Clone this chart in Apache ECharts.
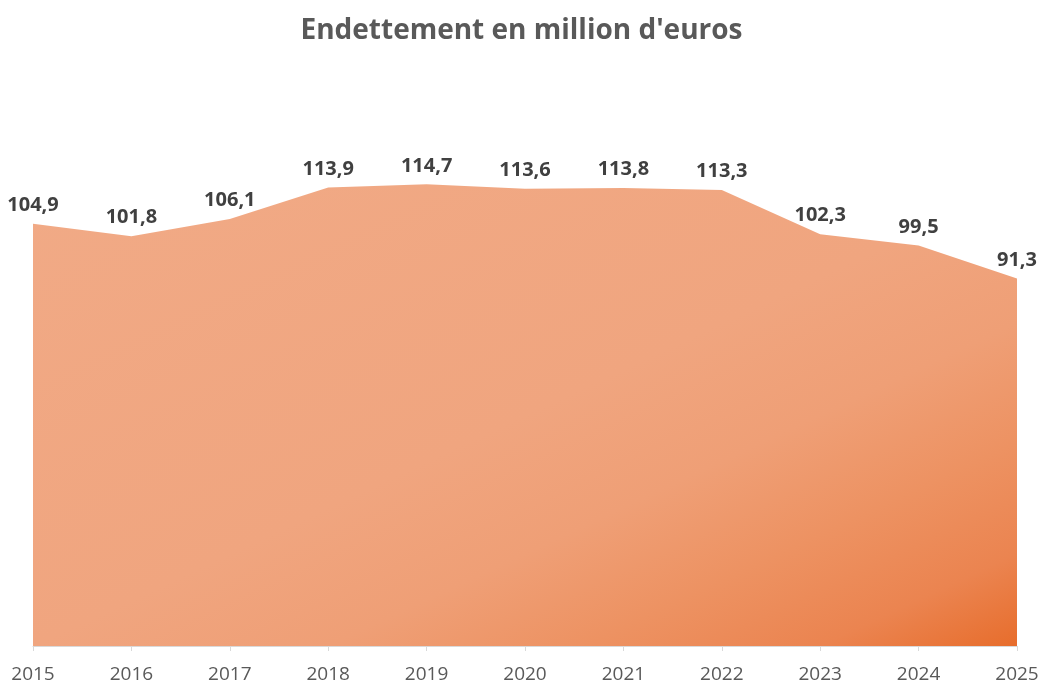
<!DOCTYPE html>
<html>
<head>
<meta charset="utf-8">
<script src="https://cdn.jsdelivr.net/npm/echarts@6/dist/echarts.min.js"></script>
<style>html,body{margin:0;padding:0;background:#fff;}#c{width:1043px;height:684px;}</style>
</head>
<body>
<div id="c"></div>
<script>
const years = ['2015','2016','2017','2018','2019','2020','2021','2022','2023','2024','2025'];
const debt = [104.9, 101.8, 106.1, 113.9, 114.7, 113.6, 113.8, 113.3, 102.3, 99.5, 91.3];
const titleText = "Endettement en million d'euros";

const chart = echarts.init(document.getElementById('c'));
const option = {
  backgroundColor: '#ffffff',
  animation: false,
  title: {
    text: titleText, left: 'center', top: 12,
    textStyle: { fontFamily: 'Open Sans', fontWeight: 'bold', fontSize: 28, color: '#595959' }
  },
  grid: { left: 33, right: 26, top: 163, bottom: 38 },
  xAxis: {
    type: 'category', data: years, boundaryGap: false,
    axisLine: { lineStyle: { color: '#d9d9d9' } },
    axisTick: { show: true, length: 5, lineStyle: { color: '#d9d9d9' } },
    axisLabel: { color: '#595959', fontSize: 19, fontFamily: 'Open Sans', margin: 19 },
    splitLine: { show: false }
  },
  yAxis: { type: 'value', min: 0, max: 120, show: false, splitLine: { show: false } },
  series: [{
    type: 'line', data: debt, symbol: 'circle', symbolSize: 1, showSymbol: true,
    itemStyle: { color: 'rgba(0,0,0,0)' },
    lineStyle: { width: 0 },
    areaStyle: { opacity: 1, color: '#f0a680' },
    label: {
      show: true, position: 'top', distance: 8,
      formatter: p => p.value.toFixed(1).replace('.', ','),
      color: '#404040', fontSize: 20, fontWeight: 'bold', fontFamily: 'Open Sans'
    }
  }]
};
chart.setOption(option);

// Build a shape-stretched diagonal gradient (isolines x/W + y/H = c) in pixel space
const maxV = Math.max(...debt);
const tl = chart.convertToPixel({gridIndex: 0}, [0, maxV]);
const br = chart.convertToPixel({gridIndex: 0}, [years.length - 1, 0]);
const W = br[0] - tl[0], H = br[1] - tl[1];
const len = Math.sqrt(W * W + H * H);
const proj = (2 * W * H) / len;
const ex = tl[0] + H / len * proj, ey = tl[1] + W / len * proj;
chart.setOption({
  series: [{
    areaStyle: {
      opacity: 1,
      color: new echarts.graphic.LinearGradient(tl[0], tl[1], ex, ey, [
        { offset: 0, color: '#f1aa86' },
        { offset: 0.5, color: '#f0a57f' },
        { offset: 0.65, color: '#ef9f76' },
        { offset: 0.78, color: '#ed9262' },
        { offset: 0.9, color: '#eb8450' },
        { offset: 1, color: '#e76d2c' }
      ], true)
    }
  }]
});
</script>
</body>
</html>
